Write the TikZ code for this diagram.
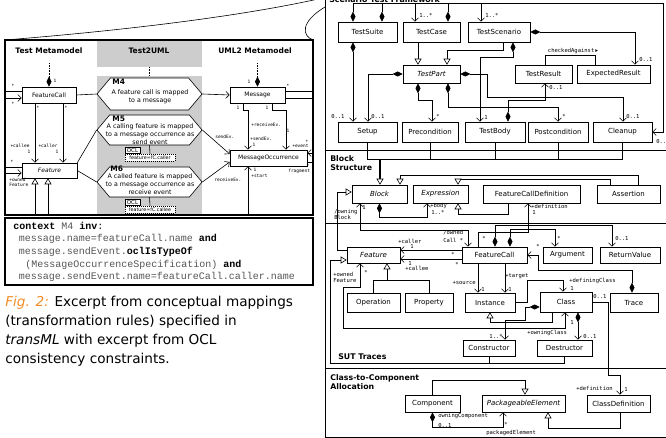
\documentclass[tikz,border=0pt]{standalone}
\usepackage{fontspec}
\setmainfont{DejaVu Sans}
\setmonofont{DejaVu Sans Mono}
\newfontfamily\oclfont{Liberation Mono}
\usetikzlibrary{arrows.meta,shapes.symbols}

\definecolor{colgrey}{HTML}{CDCDCD}
\definecolor{ocltext}{HTML}{555555}
\definecolor{figorange}{HTML}{F28C28}

\tikzset{
  cls/.style={draw, fill=white, inner sep=0pt, font=\fontsize{7}{8}\selectfont},
  abscls/.style={cls, font=\fontsize{7}{8}\selectfont\itshape},
  lcls/.style={cls, font=\fontsize{6}{7}\selectfont},
  labscls/.style={cls, font=\fontsize{6}{7}\selectfont\itshape},
  rulehex/.style={draw, fill=white, signal, signal to=east and west, signal pointer angle=100, inner sep=0pt},
  hextext/.style={align=center, inner sep=0pt, font=\fontsize{6.3}{8}\selectfont},
  rulename/.style={inner sep=0pt, font=\bfseries\fontsize{7.5}{8}\selectfont},
  ocltab/.style={draw, fill=white, inner sep=0pt, minimum width=15pt, minimum height=6.5pt, font=\fontsize{5.5}{6}\selectfont},
  oclnote/.style={draw, dash pattern=on 1pt off 1pt, fill=white, inner sep=0pt, minimum width=50pt, minimum height=7pt, font=\fontsize{4.8}{6}\selectfont},
  mult/.style={inner sep=0pt, font=\ttfamily\fontsize{5.5}{6}\selectfont, align=left},
  lmult/.style={inner sep=0pt, font=\ttfamily\fontsize{4.5}{5}\selectfont, align=left},
  secttitle/.style={inner sep=0pt, font=\bfseries\fontsize{7.8}{9.5}\selectfont, align=left},
  colhead/.style={inner sep=0pt, font=\bfseries\fontsize{7.5}{9}\selectfont},
  comp/.style={{Diamond[length=10pt,width=5pt]}-},
  nav/.style={-{Straight Barb[length=3.5pt,width=7pt]}},
  bnav/.style={{Straight Barb[length=3.5pt,width=7pt]}-{Straight Barb[length=3.5pt,width=7pt]}},
  compnav/.style={{Diamond[length=10pt,width=5pt]}-{Straight Barb[length=3.5pt,width=7pt]}},
  gen/.style={-{Triangle[length=6pt,width=7pt,fill=white,line width=0.6pt]}},
}

\begin{document}
\begin{tikzpicture}[x=1pt,y=-1pt,line width=0.6pt]
\useasboundingbox (0,0) rectangle (666,438);

% ---------------- left: transML rules ----------------
\fill[colgrey] (97,40) rectangle (202,67);
\fill[colgrey] (97,76) rectangle (202,215);
\draw[line width=1.1pt] (5,40) rectangle (313,215);
\draw[line width=1.1pt] (5,218) rectangle (313,285);
\draw (5,40) .. controls (130,30) and (250,15) .. (327,-3);
\draw (313,40) .. controls (302,36) and (300,22) .. (325,7);

\node[colhead] (hdtest) at (49,51) {Test Metamodel};
\node[colhead] (hdtrans) at (149,51) {Test2UML};
\node[colhead] (hduml) at (255,51) {UML2 Metamodel};
\draw[densely dotted] (149,67) -- (149,76);

\node[lcls, minimum width=54pt, minimum height=16pt] (lfcall) at (49,95) {FeatureCall};
\node[labscls, minimum width=55pt, minimum height=15pt] (lfeat) at (49.5,170.5) {Feature};
\node[lcls, minimum width=55pt, minimum height=16pt] (msg) at (257.5,95) {Message};
\node[lcls, minimum width=77pt, minimum height=16pt] (mocc) at (268.5,158) {MessageOccurrence};

\node[rulehex, minimum width=105pt, minimum height=32pt] (m4) at (149.5,94) {};
\node[hextext] (m4txt) at (150,96.5) {A feature call is mapped\\to a message};
\node[rulename, anchor=west] (m4name) at (112,82) {M4};
\node[rulehex, minimum width=105pt, minimum height=30pt] (m5) at (149.5,130) {};
\node[hextext] (m5txt) at (150,134) {A calling feature is mapped\\to a message occurrence as\\send event};
\node[rulename, anchor=west] (m5name) at (112,119) {M5};
\node[rulehex, minimum width=105pt, minimum height=30pt] (m6) at (149.5,182) {};
\node[hextext] (m6txt) at (150,184.5) {A called feature is mapped\\to a message occurrence as\\receive event};
\node[rulename, anchor=west] (m6name) at (110,169) {M6};

\node[oclnote] (ocl5) at (150,157.5) {feature=fC.caller};
\node[ocltab] (ocl5tab) at (132.5,150.5) {OCL};
\draw (m5.south) -- (ocl5.north);
\node[oclnote] (ocl6) at (150,209.5) {feature=fC.callee};
\node[ocltab] (ocl6tab) at (132.5,202.5) {OCL};
\draw (m6.south) -- (ocl6.north);

\draw (lfcall.east) -- (m4.west);
\draw (lfeat.north east) -- (m5.west);
\draw (lfeat.east) -- (m6.west);
\draw[nav] (m4.east) -- (msg.west);
\draw[nav] (m5.east) -- ([yshift=4pt]mocc.west);
\draw[nav] (m6.east) -- ([yshift=-4pt]mocc.west);

\draw[comp] (lfcall.north) -- ++(0,-10) coordinate (lfctop);
\draw[densely dotted] (lfctop) -- ++(0,-14);
\draw[comp] (msg.north) -- ++(0,-10) coordinate (msgtop);
\draw[densely dotted] (msgtop) -- ++(0,-14);
\draw (5,91) -- (lfcall.west |- 0,91);
\draw[nav] (5,98) -- (lfcall.west |- 0,98);
\draw (5,167) -- (lfeat.west |- 0,167);
\draw[nav] (5,173) -- (lfeat.west |- 0,173);
\draw[nav] (lfcall.south -| 35,0) -- (lfeat.north -| 35,0);
\draw[nav] (lfcall.south -| 63,0) -- (lfeat.north -| 63,0);
\draw[gen] (35,215) -- (lfeat.south -| 35,0);
\draw[gen] (48,215) -- (lfeat.south -| 48,0);
\draw (msg.east |- 0,91) -- (313,91);
\draw (msg.east |- 0,98) -- (313,98);
\draw[nav] (msg.south -| 243,0) -- (243,110) -| (mocc.north -| 248,0);
\draw[nav] (msg.south -| 272,0) -- (272,110) -| (mocc.north -| 286,0);
\draw[nav] (248,215) -- (mocc.south -| 248,0);
\draw[nav] (313,153) -- (mocc.east |- 0,153);
\draw (313,162) -- (mocc.east |- 0,162);

\node[lmult] (l1) at (55,81) {1};
\node[lmult] (l2) at (13,86) {*};
\node[lmult] (l3) at (13,104) {*};
\node[lmult] (l4) at (38,108) {*};
\node[lmult] (l5) at (66,108) {*};
\node[lmult] (l6) at (20,146) {+callee};
\node[lmult] (l7) at (29,152) {1};
\node[lmult] (l8) at (48,146) {+caller};
\node[lmult] (l9) at (57,152) {1};
\node[lmult] (l10) at (12,162) {*};
\node[lmult, anchor=north west] (l11) at (9,178) {+owned\\Feature};
\node[lmult] (l12) at (249,82) {1};
\node[lmult] (l13) at (288,86) {*};
\node[lmult] (l14) at (238,108) {1};
\node[lmult] (l15) at (267,108) {1};
\node[lmult, anchor=west] (l16) at (251,125) {+receiveEv.};
\node[lmult] (l17) at (288,131) {1};
\node[lmult, anchor=west] (l18) at (250,139) {+sendEv.};
\node[lmult] (l19) at (254,145) {1};
\node[lmult, anchor=west] (l20) at (292,146) {+event};
\node[lmult] (l21) at (307,142) {*};
\node[lmult, anchor=west] (l22) at (215,137) {sendEv.};
\node[lmult, anchor=west] (l23) at (214,180) {receiveEv.};
\node[lmult] (l24) at (308,166) {*};
\node[lmult, anchor=west] (l25) at (288,171) {fragment};
\node[lmult] (l26) at (255,170) {1};
\node[lmult, anchor=west] (l27) at (251,176) {+start};

\node[anchor=north west, inner sep=0pt, align=left, text=ocltext,
  font=\oclfont\fontsize{10}{12.7}\selectfont] (oclcode) at (13,221.5) {%
\textcolor{black}{\textbf{context}} M4 \textcolor{black}{\textbf{inv}:}\\
\hspace*{5.5pt}message.name=featureCall.name \textcolor{black}{\textbf{and}}\\
\hspace*{5.5pt}message.sendEvent.\textcolor{black}{\textbf{oclIsTypeOf}}\\
\hspace*{12pt}(MessageOccurrenceSpecification) \textcolor{black}{\textbf{and}}\\
\hspace*{5.5pt}message.sendEvent.name=featureCall.caller.name};

\node[anchor=north west, inner sep=0pt, align=left, font=\fontsize{13.6}{19}\selectfont] (caption) at (5,295.5) {%
\textcolor{figorange}{\itshape Fig. 2:} Excerpt from conceptual mappings\\
(transformation rules) specified in\\
\textit{transML} with excerpt from OCL\\
consistency constraints.};

% ---------------- right: metamodel ----------------
\draw[line width=0.8pt] (325,-10) rectangle (680,437);
\draw (325,150) -- (680,150);
\draw (325,223) -- (680,223);
\draw (325,368) -- (680,368);
\node[secttitle, anchor=base west] (secstf) at (329,2.5) {Scenario Test Framework};
\node[secttitle, anchor=north west] (secblock) at (330,155) {Block\\Structure};
\node[secttitle, anchor=west] (secsut) at (338,357) {SUT Traces};
\node[secttitle, anchor=north west] (secalloc) at (330,374) {Class-to-Component\\Allocation};

% scenario test framework
\node[cls, minimum width=59pt, minimum height=20pt] (suite) at (367.5,32) {TestSuite};
\node[cls, minimum width=57pt, minimum height=20pt] (tcase) at (431.5,32) {TestCase};
\node[cls, minimum width=62pt, minimum height=20pt] (tscen) at (499,32) {TestScenario};
\node[abscls, minimum width=57pt, minimum height=18pt] (tpart) at (431.5,74) {TestPart};
\node[cls, minimum width=57pt, minimum height=18pt] (tresult) at (543.5,74) {TestResult};
\node[cls, minimum width=73pt, minimum height=18pt] (expres) at (613.5,74) {ExpectedResult};
\node[cls, minimum width=59pt, minimum height=20pt] (setup) at (367.5,132) {Setup};
\node[cls, minimum width=56pt, minimum height=20pt] (precond) at (430,132) {Precondition};
\node[cls, minimum width=60pt, minimum height=20pt] (tbody) at (495,132) {TestBody};
\node[cls, minimum width=60pt, minimum height=20pt] (postcond) at (558,132) {Postcondition};
\node[cls, minimum width=59pt, minimum height=20pt] (cleanup) at (622.5,132) {Cleanup};

\draw[compnav] (suite.north -| 353,0) -- (353,3) -| (663,132) -- (cleanup.east);
\draw[compnav] (suite.north -| 382,0) -- (382,3) -| (tcase.north -| 415,0);
\draw[compnav] (tcase.north -| 448,0) -- (448,3) -| (tscen.north -| 481,0);
\draw[compnav] (tscen.east) -| (expres.north -| 635,0);
\draw[compnav] (tscen.south -| 513,0) -- (513,57) -| (tbody.north -| 480,0);
\draw[gen] (tcase.south -| 418,0) -- (tpart.north -| 418,0);
\draw[gen] (tscen.south -| 503,0) |- (447,50) -- (tpart.north -| 447,0);
\draw[compnav] (tpart.west) -| (setup.north -| 368,0);
\draw[compnav] (suite.south -| 353,0) -- (setup.north -| 353,0);
\draw[compnav] (tpart.east) -| (487,97) -| (cleanup.north -| 623,0);
\draw[compnav] (tpart.south -| 418,0) -- (418,100) -| (precond.north -| 432,0);
\draw[compnav] (tpart.south -| 448,0) -- (448,107) -| (postcond.north -| 558,0);
\draw[compnav] (tbody.north -| 508,0) -- (508,100) -| (tresult.south -| 545,0);
\draw (tresult.north -| 545,0) |- (595,55) -- (expres.north -| 595,0);

\node[mult, anchor=west] (r1) at (419,15) {1..*};
\node[mult, anchor=west] (r2) at (485,15) {1..*};
\node[mult, anchor=west] (r3) at (639,60) {0..1};
\node[mult] (r4) at (573,51) {checkedAgainst\,{\fontspec{DejaVu Sans}▸}};
\node[mult, anchor=west] (r5) at (549,88) {0..1};
\node[mult, anchor=west] (r6) at (331,117) {0..1};
\node[mult, anchor=west] (r7) at (371,117) {0..1};
\node[mult, anchor=west] (r8) at (436,116) {*};
\node[mult, anchor=west] (r9) at (484,117) {1};
\node[mult, anchor=west] (r10) at (562,116) {*};
\node[mult, anchor=west] (r11) at (626,117) {0..1};
\node[mult, anchor=west] (r12) at (656,141) {0..1};

% block structure
\node[abscls, minimum width=55pt, minimum height=18pt] (block) at (379.5,194) {Block};
\node[abscls, minimum width=55pt, minimum height=18pt] (expr) at (440.5,194) {Expression};
\node[cls, minimum width=97pt, minimum height=18pt] (fcdef) at (531.5,194) {FeatureCallDefinition};
\node[cls, minimum width=63pt, minimum height=18pt] (assertion) at (628.5,194) {Assertion};

\draw (setup.south) |- (cleanup.south |- 0,159) -- (cleanup.south);
\draw (precond.south) -- (precond.south |- 0,159);
\draw (tbody.south) -- (tbody.south |- 0,159);
\draw (postcond.south) -- (postcond.south |- 0,159);
\coordinate (blockjoin) at (380,159);
\draw[gen, line width=1.4pt] (blockjoin) -- (block.north -| 380,0);
\draw[gen] (assertion.north -| 638,0) |- (400,175) -- (block.north -| 400,0);
\draw[gen] (assertion.north -| 610,0) |- (458,179) -- (expr.north -| 458,0);
\draw[compnav] (block.south) |- (427,217) -- (expr.south -| 427,0);
\draw[gen] (fcdef.south -| 508,0) |- (458,214) -- (expr.south -| 458,0);

\node[mult, anchor=north west] (r13) at (334,209) {/owning\\Block};
\node[mult] (r14) at (364,207) {1};
\node[mult, anchor=west] (r15) at (430,206) {+body};
\node[mult, anchor=west] (r16) at (431,212) {1..*};
\node[mult, anchor=west] (r17) at (531,206) {+definition};
\node[mult, anchor=west] (r18) at (532,212) {1};

% SUT traces
\node[abscls, minimum width=53pt, minimum height=16pt] (feature) at (373.5,255) {Feature};
\node[cls, minimum width=65pt, minimum height=16pt] (fcall) at (494.5,255) {FeatureCall};
\node[cls, minimum width=49pt, minimum height=16pt] (argument) at (567.5,255) {Argument};
\node[cls, minimum width=60pt, minimum height=16pt] (retval) at (630,255) {ReturnValue};
\node[cls, minimum width=53pt, minimum height=19pt] (operation) at (373.5,302.5) {Operation};
\node[cls, minimum width=48pt, minimum height=19pt] (property) at (429,302.5) {Property};
\node[cls, minimum width=50pt, minimum height=19pt] (instance) at (490,302.5) {Instance};
\node[cls, minimum width=52pt, minimum height=20pt] (class) at (566,302) {Class};
\node[cls, minimum width=48pt, minimum height=19pt] (trace) at (634,302.5) {Trace};
\node[cls, minimum width=52pt, minimum height=16pt] (ctor) at (489,348) {Constructor};
\node[cls, minimum width=55pt, minimum height=16pt] (dtor) at (564.5,348) {Destructor};

\draw[bnav] (fcall.north -| 468,0) |- (360,230) -- (block.south -| 360,0);
\draw[nav] (fcall.north -| 478,0) |- (528,232) -- (fcdef.south -| 528,0);
\draw[compnav] (fcall.north -| 495,0) |- (612,225) -- (retval.north -| 612,0);
\draw[compnav] (fcall.north -| 510,0) |- (555,229) -- (argument.north -| 555,0);
\draw[nav] (fcall.west |- 0,250) -- (feature.east |- 0,250);
\draw[nav] (fcall.west |- 0,259) -- (feature.east |- 0,259);
\draw[gen] (feature.west |- 0,250) -| (337,192) -- (block.west |- 0,192);
\draw[gen] (ctor.south) |- (330,363) |- (feature.west |- 0,260);
\draw (dtor.south) |- (ctor.south |- 0,363);
\draw[gen] (operation.north) |- (387,280) -- (feature.south -| 387,0);
\draw (property.north) |- (387,280);
\draw[bnav] (feature.south -| 360,0) -- (360,287) -| (343,328) -| (class.south -| 565,0);
\draw[compnav] (trace.north -| 632,0) |- (538,270) |- (fcall.east |- 0,255);
\draw[nav] (fcall.south -| 478,0) -- (instance.north -| 478,0);
\draw[nav] (fcall.south -| 505,0) -- (instance.north -| 505,0);
\draw[nav] (instance.east) -| (527,280) -| (class.north -| 563,0);
\draw[compnav] (class.west |- 0,307) -| (525,320) -| (ctor.north -| 505,0);
\draw[gen] (class.south -| 552,0) |- (490,322) -- (instance.south -| 490,0);
\draw[compnav] (class.south -| 578,0) -- (dtor.north -| 578,0);

\node[mult, anchor=west] (r19) at (443,233) {/owned};
\node[mult, anchor=west] (r20) at (443,240) {Call *};
\node[mult] (r21) at (484,238) {*};
\node[mult] (r22) at (559,238) {*};
\node[mult, anchor=west] (r23) at (615,238) {0..1};
\node[mult, anchor=west] (r24) at (398,241) {+caller};
\node[mult] (r25) at (412,246) {1};
\node[mult] (r26) at (453,254) {*};
\node[mult] (r27) at (410,263) {1};
\node[mult, anchor=west] (r28) at (405,268) {+callee};
\node[mult] (r29) at (457,264) {*};
\node[mult] (r30) at (538,246) {*};
\node[mult, anchor=north west] (r31) at (333,272) {+owned\\Feature};
\node[mult] (r32) at (366,272) {*};
\node[mult, anchor=east] (r33) at (476,283) {+source};
\node[mult] (r34) at (483,289) {1};
\node[mult, anchor=west] (r35) at (505,276) {+target};
\node[mult] (r36) at (510,289) {1};
\node[mult, anchor=west] (r37) at (569,281) {+definingClass};
\node[mult] (r38) at (572,288) {1};
\node[mult, anchor=west] (r39) at (593,296) {0..1};
\node[mult, anchor=east] (r40) at (503,336) {1..*};
\node[mult, anchor=west] (r41) at (527,333) {+owningClass};
\node[mult] (r42) at (572,322) {1};
\node[mult, anchor=west] (r43) at (583,336) {0..1};

% class-to-component allocation
\node[cls, minimum width=55pt, minimum height=17pt] (comp) at (432.5,403.5) {Component};
\node[abscls, minimum width=83pt, minimum height=17pt] (pelem) at (523.5,403.5) {PackageableElement};
\node[cls, minimum width=63pt, minimum height=17pt] (cdef) at (618.5,403.5) {ClassDefinition};

\draw[nav] (class.east) -| (608,375) -| (cdef.north -| 620,0);
\draw[gen] (comp.north) |- (525,380) -- (pelem.north -| 525,0);
\draw[gen] (cdef.south -| 620,0) |- (548,428) -- (pelem.south -| 548,0);
\draw[compnav] (comp.south) |- (503,427) -- (pelem.south -| 503,0);

\node[mult, anchor=east] (r44) at (613,388) {+definition};
\node[mult] (r45) at (626,389) {1};
\node[mult, anchor=west] (r46) at (438,416) {owningComponent};
\node[mult, anchor=west] (r47) at (438,425) {0..1};
\node[mult] (r48) at (506,424) {*};
\node[mult, anchor=west] (r49) at (486,433) {packagedElement};
\end{tikzpicture}
\end{document}
